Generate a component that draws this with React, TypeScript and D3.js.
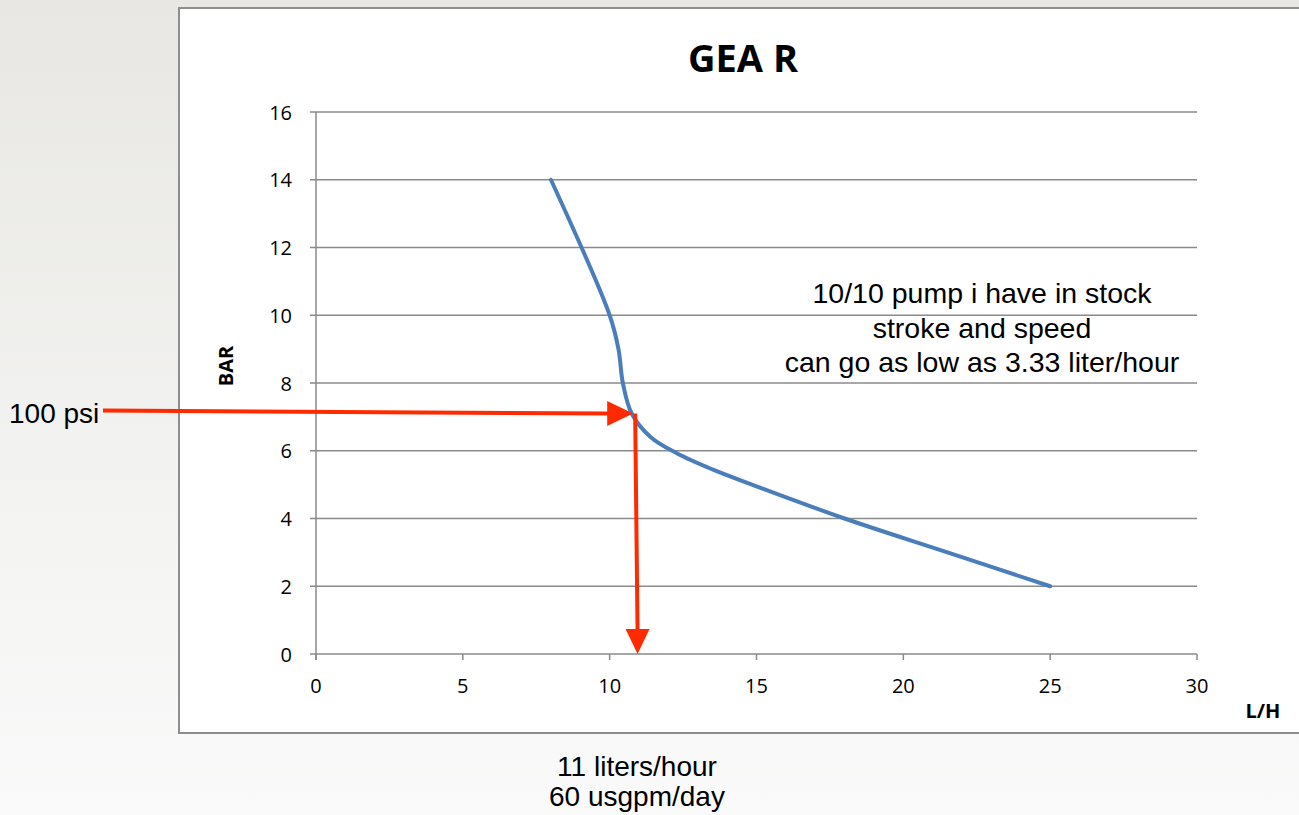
import React from "react";
import * as d3 from "d3";

const flowLH = [8, 10, 10.3, 10.45, 10.75, 11.4, 12.3, 13.5, 15, 18, 21.5, 25];
const pressureBar = [14, 10, 9, 8, 7.1, 6.4, 5.92, 5.45, 4.95, 4, 3, 2];
const xTicks = [0, 5, 10, 15, 20, 25, 30];
const yTicks = [0, 2, 4, 6, 8, 10, 12, 14, 16];
const gridValues = [2, 4, 6, 8, 10, 12, 14, 16];
const noteLines = ["10/10 pump i have in stock", "stroke and speed", "can go as low as 3.33 liter/hour"];
const operatingPoint = { flow: 10.8, bar: 7.1, axisFlow: 10.95 };
const bottomLines = ["11 liters/hour", "60 usgpm/day"];

const W = 1299, H = 815;
const x = d3.scaleLinear().domain([0, 30]).range([316, 1197]);
const y = d3.scaleLinear().domain([0, 16]).range([654, 112]);

export default function App() {
  const pts: [number, number][] = flowLH.map((f, i) => [f, pressureBar[i]]);
  const line = d3.line<[number, number]>()
    .x(d => x(d[0])).y(d => y(d[1]))
    .curve(d3.curveCatmullRom.alpha(0.5));
  const tickFont = "'Open Sans', 'DejaVu Sans', sans-serif";
  const textFont = "'Liberation Sans', Arial, sans-serif";
  const red = "#ff2a00";
  const ox = x(operatingPoint.flow), oy = y(operatingPoint.bar);
  const bx = x(operatingPoint.axisFlow), by = y(0);
  return (
    <svg width={W} height={H} style={{ position: "absolute", left: 0, top: 0 }}>
      <defs>
        <linearGradient id="bg" x1="0" y1="0" x2="0" y2="1">
          <stop offset="0" stopColor="#e8e7e3" />
          <stop offset="0.5" stopColor="#f1f1ef" />
          <stop offset="1" stopColor="#fafafa" />
        </linearGradient>
      </defs>
      <rect x={0} y={0} width={W} height={H} fill="url(#bg)" />
      <rect x={179} y={8} width={W} height={725} fill="#ffffff" stroke="#8e8e8e" strokeWidth={2} />
      <text x={743} y={72} textAnchor="middle" fontFamily={tickFont} fontWeight="bold" fontSize={38} fill="#000">GEA R</text>
      {gridValues.map(v => (
        <line key={"g" + v} x1={x(0)} x2={x(30)} y1={y(v)} y2={y(v)} stroke="#8a8a8a" strokeWidth={1.5} />
      ))}
      <line x1={x(0)} x2={x(0)} y1={y(16)} y2={y(0) + 6} stroke="#8a8a8a" strokeWidth={1.5} />
      <line x1={x(0)} x2={x(30)} y1={y(0)} y2={y(0)} stroke="#8a8a8a" strokeWidth={1.5} />
      {yTicks.map(v => (
        <g key={"yt" + v}>
          <line x1={x(0) - 6} x2={x(0)} y1={y(v)} y2={y(v)} stroke="#8a8a8a" strokeWidth={1.5} />
          <text x={292} y={y(v) + 7.5} textAnchor="end" fontFamily={tickFont} fontSize={20} fill="#000">{v}</text>
        </g>
      ))}
      {xTicks.map(v => (
        <g key={"xt" + v}>
          <line x1={x(v)} x2={x(v)} y1={y(0)} y2={y(0) + 6} stroke="#8a8a8a" strokeWidth={1.5} />
          <text x={x(v)} y={693} textAnchor="middle" fontFamily={tickFont} fontSize={20} fill="#000">{v}</text>
        </g>
      ))}
      <text transform="translate(233,366) rotate(-90)" textAnchor="middle" fontFamily={tickFont} fontWeight="bold" fontSize={20} fill="#000">BAR</text>
      <text x={1263} y={718} textAnchor="middle" fontFamily={tickFont} fontWeight="bold" fontSize={20} fill="#000">L/H</text>
      <path d={line(pts) || ""} fill="none" stroke="#4a7ebb" strokeWidth={4} strokeLinecap="round" />
      {noteLines.map((t, i) => (
        <text key={"n" + i} x={982} y={303 + i * 34.5} textAnchor="middle" fontFamily={textFont} fontSize={28.5} fill="#000">{t}</text>
      ))}
      <text x={9} y={423} fontFamily={textFont} fontSize={28} fill="#000">100 psi</text>
      <line x1={103} y1={410.5} x2={ox - 24} y2={oy} stroke={red} strokeWidth={4} />
      <polygon points={`${ox},${oy} ${ox - 26},${oy - 12.5} ${ox - 26},${oy + 12.5}`} fill={red} />
      <line x1={ox + 2} y1={oy} x2={bx} y2={by - 22} stroke={red} strokeWidth={4} />
      <polygon points={`${bx},${by} ${bx - 12},${by - 25} ${bx + 12},${by - 25}`} fill={red} />
      {bottomLines.map((t, i) => (
        <text key={"b" + i} x={637} y={776 + i * 30} textAnchor="middle" fontFamily={textFont} fontSize={28} fill="#000">{t}</text>
      ))}
    </svg>
  );
}
